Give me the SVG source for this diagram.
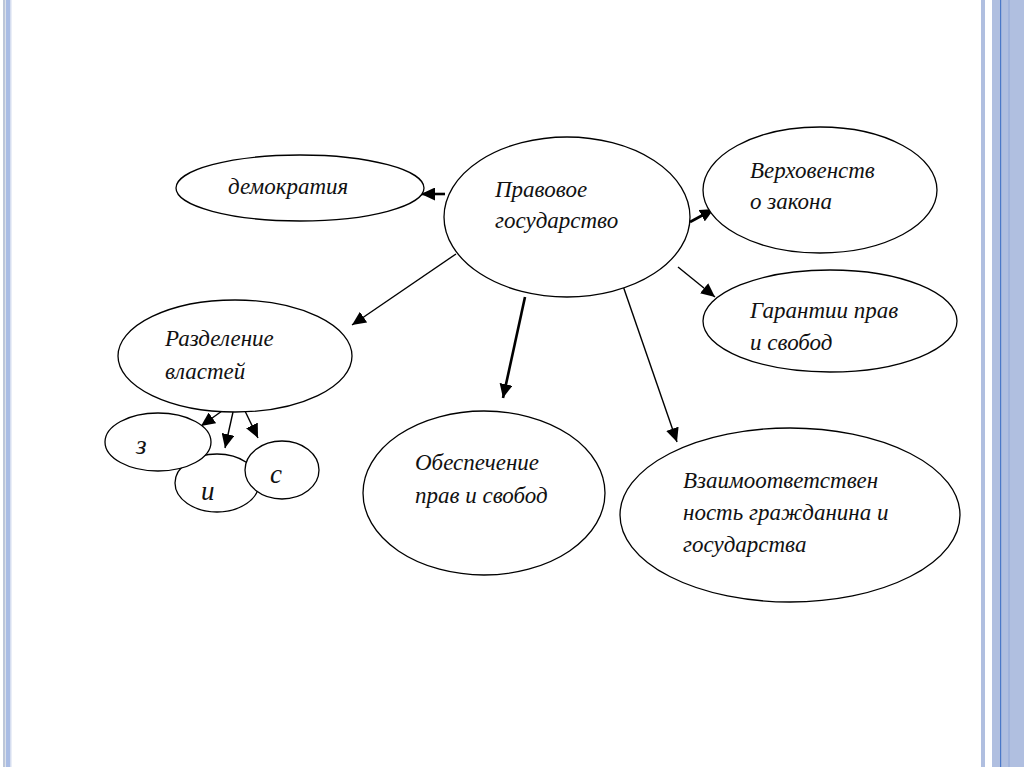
<svg xmlns="http://www.w3.org/2000/svg" width="1024" height="767" viewBox="0 0 1024 767">
<style>
.n{fill:#fff;stroke:#000;stroke-width:1.3}
.t{font-family:"Liberation Serif","DejaVu Serif",serif;font-style:italic;font-size:23px;fill:#111}
.s{font-size:27px}
.c{stroke:#000;stroke-width:1.4;fill:none}
.ct{stroke:#000;stroke-width:2.6;fill:none}
</style>
<defs>
<marker id="ah" markerUnits="userSpaceOnUse" markerWidth="15" markerHeight="13" refX="14" refY="6.5" orient="auto">
<path d="M0,0 L14,6.5 L0,13 z" fill="#000"/>
</marker>
</defs>
<rect width="1024" height="767" fill="#fff"/>
<g id="frame">
<rect x="3" y="0" width="2.5" height="767" fill="#bcc6d8"/>
<rect x="6" y="0" width="4" height="767" fill="#a9bce4"/>
<rect x="10" y="0" width="1.5" height="767" fill="#d6def0"/>
<rect x="981" y="0" width="4" height="767" fill="#b0bfe0"/>
<rect x="992" y="0" width="32" height="767" fill="#b0bfe0"/>
<rect x="1000" y="0" width="1.2" height="767" fill="#4a78c8"/>
<rect x="1008" y="0" width="2" height="767" fill="#a0b3dc"/>
</g>
<g id="connectors">
<line class="ct" x1="445" y1="194" x2="421" y2="194" marker-end="url(#ah)"/>
<line class="ct" x1="690" y1="222" x2="714" y2="209" marker-end="url(#ah)"/>
<line class="c" x1="678" y1="267" x2="715" y2="297" marker-end="url(#ah)"/>
<line class="c" x1="456" y1="254" x2="352" y2="325" marker-end="url(#ah)"/>
<line class="ct" x1="525" y1="297" x2="503" y2="398" marker-end="url(#ah)"/>
<line class="c" x1="622" y1="283" x2="677" y2="442" marker-end="url(#ah)"/>
<line class="c" x1="222" y1="411" x2="201" y2="426" marker-end="url(#ah)"/>
<line class="c" x1="233" y1="412" x2="225" y2="448" marker-end="url(#ah)"/>
<line class="c" x1="245" y1="411" x2="258" y2="438" marker-end="url(#ah)"/>
</g>
<g id="pravovoe">
<ellipse class="n" cx="567" cy="217" rx="123" ry="80"/>
<text class="t" x="495" y="197">Правовое</text>
<text class="t" x="495" y="228">государство</text>
</g>
<g id="demokratiya">
<ellipse class="n" cx="300" cy="188" rx="124" ry="33"/>
<text class="t" x="228" y="194">демократия</text>
</g>
<g id="verkhovenstvo">
<ellipse class="n" cx="820" cy="190" rx="117" ry="63"/>
<text class="t" x="750" y="178">Верховенств</text>
<text class="t" x="750" y="209">о закона</text>
</g>
<g id="garantii">
<ellipse class="n" cx="830" cy="321" rx="127" ry="51"/>
<text class="t" x="750" y="318">Гарантии прав</text>
<text class="t" x="750" y="350">и свобод</text>
</g>
<g id="razdelenie">
<ellipse class="n" cx="235" cy="356" rx="117" ry="56"/>
<text class="t" x="165" y="346">Разделение</text>
<text class="t" x="165" y="379">властей</text>
</g>
<g id="i">
<ellipse class="n" cx="217" cy="483" rx="42" ry="29"/>
<text class="t s" x="201" y="500">и</text>
</g>
<g id="z">
<ellipse class="n" cx="158" cy="442" rx="53" ry="29"/>
<text class="t s" x="136" y="454">з</text>
</g>
<g id="s">
<ellipse class="n" cx="282" cy="470" rx="37" ry="29"/>
<text class="t s" x="270" y="483">с</text>
</g>
<g id="obespechenie">
<ellipse class="n" cx="484" cy="493" rx="121" ry="82"/>
<text class="t" x="415" y="470">Обеспечение</text>
<text class="t" x="415" y="503">прав и свобод</text>
</g>
<g id="vzaimo">
<ellipse class="n" cx="790" cy="515" rx="170" ry="87"/>
<text class="t" x="683" y="488">Взаимоответствен</text>
<text class="t" x="683" y="520">ность гражданина и</text>
<text class="t" x="683" y="552">государства</text>
</g>
</svg>
